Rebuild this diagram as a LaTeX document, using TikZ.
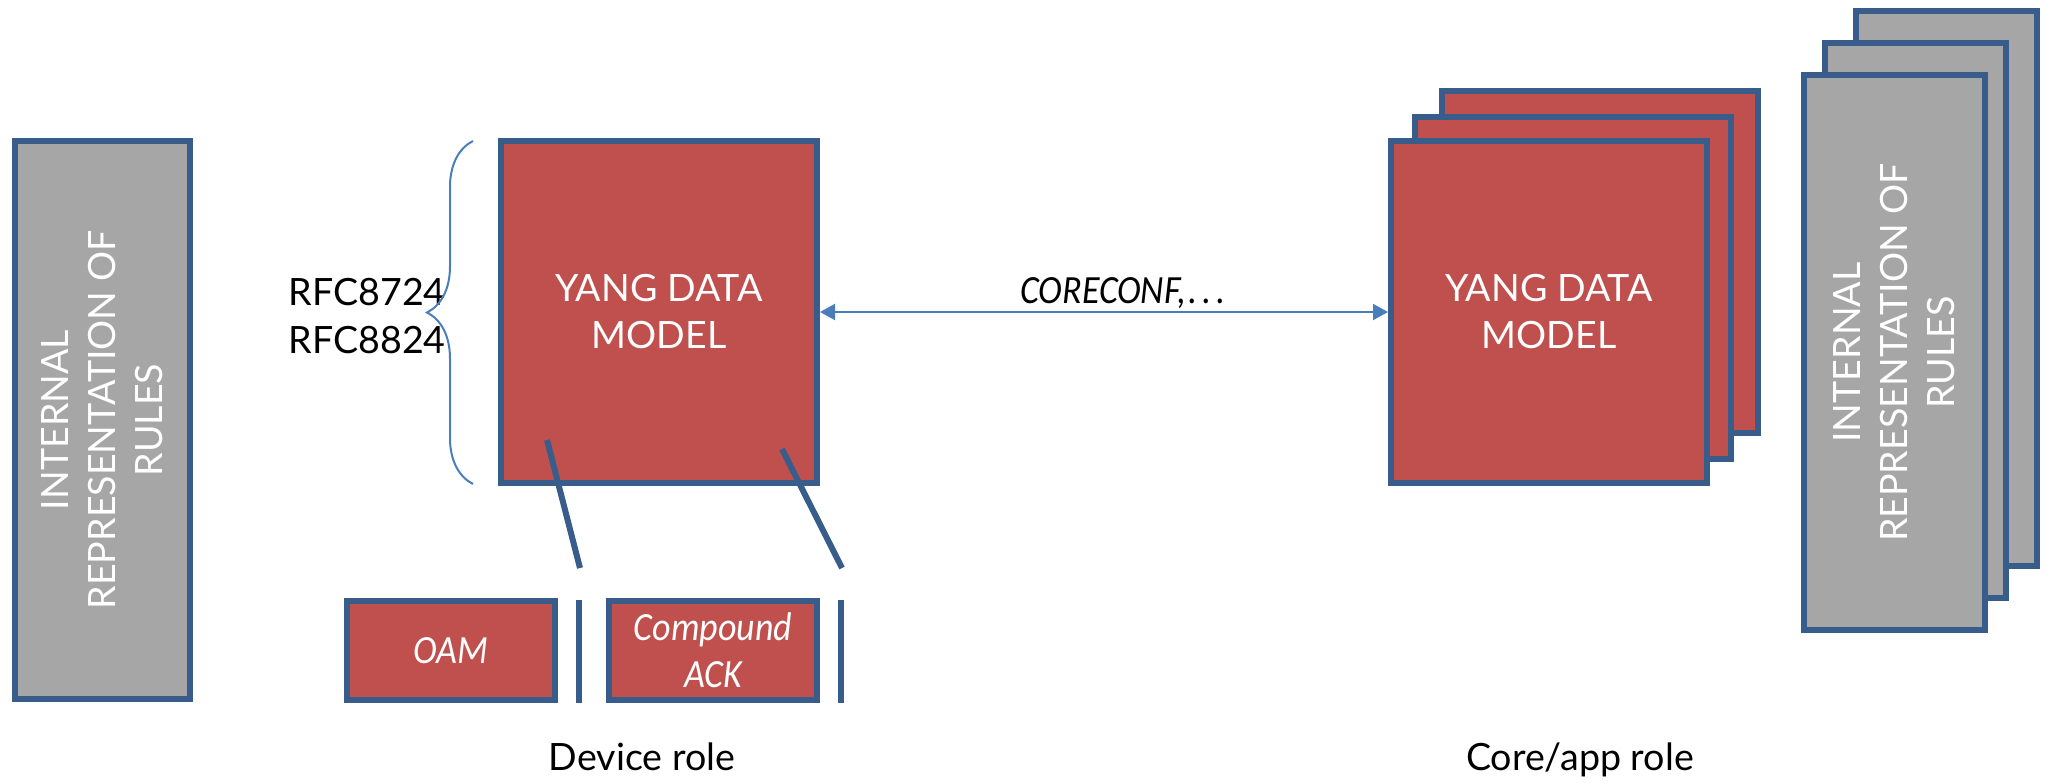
\documentclass[tikz,border=0pt]{standalone}
\usepackage{fontspec}
\usepackage{xcolor}
\setmainfont{Lato}
\newfontfamily\calfont[FakeStretch=0.9]{Carlito}
\usetikzlibrary{arrows.meta,decorations.pathreplacing}

\definecolor{boxred}{HTML}{C0504D}
\definecolor{boxgrey}{HTML}{A6A6A6}
\definecolor{boxline}{HTML}{385D8A}
\definecolor{linkblue}{HTML}{4A7EBB}

\newcommand\lblfont{\fontsize{18.8}{23.5}\selectfont}
\newcommand\slantlbl{\calfont\itshape\fontsize{20}{23.5}\selectfont}

\begin{document}
\begin{tikzpicture}[x=0.5pt,y=-0.5pt,
  redbox/.style={draw=boxline,fill=boxred,line width=3pt,text=white,align=center,
    inner sep=0pt,minimum width=158pt,minimum height=171pt,font=\lblfont},
  greybox/.style={draw=boxline,fill=boxgrey,line width=3pt,text=white,align=center,
    inner sep=0pt,rotate=90,font=\lblfont},
  smallbox/.style={redbox,minimum width=104pt,minimum height=49.5pt,font=\slantlbl},
  stroke/.style={draw=boxline,line width=3pt},
  link/.style={draw=linkblue,line width=1pt,<->,>={Triangle[length=7.5pt,width=8pt]}},
  bracket/.style={draw=linkblue,line width=1pt,decorate,decoration={brace,amplitude=23pt}},
  plainlbl/.style={inner sep=0pt,font=\lblfont}]

    \useasboundingbox (0,0) rectangle (2046,782);

    % device side
    \node[greybox,minimum width=279pt,minimum height=87.5pt] (rulesdev) at (102.5,420)
      {INTERNAL\\REPRESENTATION OF\\RULES};

    \node[redbox] (yangdev) at (659,312) {YANG DATA\\MODEL};

    \node[plainlbl,anchor=base east] (rfca) at (446,305) {RFC8724};
    \node[plainlbl,anchor=base east] (rfcb) at (446,353) {RFC8824};
    \draw[bracket] (473,484) -- (473,141);

    \node[smallbox] (oam) at (451,650.5) {OAM};
    \node[smallbox] (cack) at (713,650.5) {Compound\\ACK};

    \coordinate (oamin) at (547,440);
    \coordinate (oamout) at (580,568);
    \coordinate (cackin) at (782,449);
    \coordinate (cackout) at (842,568);
    \draw[stroke] (oamin) -- (oamout);
    \draw[stroke] (cackin) -- (cackout);
    \draw[stroke] (579,600) -- (579,703);
    \draw[stroke] (841,600) -- (841,703);

    \node[plainlbl,anchor=base] (devrole) at (642,770) {Device role};

    % core side
    \node[redbox] (yangback) at (1600,262) {};
    \node[redbox] (yangmid) at (1573,288) {};
    \node[redbox] (yangcore) at (1549,312) {YANG DATA\\MODEL};

    \node[greybox,minimum width=277.5pt,minimum height=90.5pt] (rulesback) at (1946.5,288.5) {};
    \node[greybox,minimum width=277.5pt,minimum height=90.5pt] (rulesmid) at (1915.5,320.5) {};
    \node[greybox,minimum width=277.5pt,minimum height=90.5pt] (rulescore) at (1894.5,352.5)
      {INTERNAL\\REPRESENTATION OF\\RULES};

    \node[plainlbl,anchor=base] (corerole) at (1580,770) {Core/app role};

    % link between both roles
    \draw[link] (yangdev.east) -- (yangcore.west);
    \node[inner sep=0pt,anchor=base,font=\calfont\itshape\fontsize{20}{24}\selectfont] (coreconf)
      at (1123,303) {CORECONF,\kern1pt.\kern2.5pt.\kern2.5pt.};
  \end{tikzpicture}
\end{document}
